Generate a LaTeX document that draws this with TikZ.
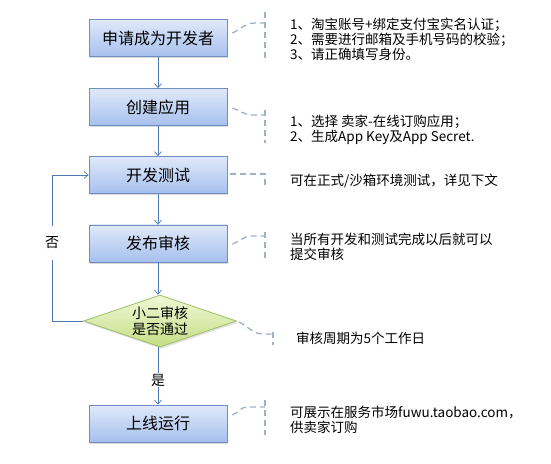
\documentclass[tikz,border=0pt]{standalone}
\usepackage{fontspec}
\setmainfont{Noto Sans CJK SC}
\usetikzlibrary{shapes.geometric,arrows.meta,shadows,calc}
\definecolor{boxtop}{RGB}{224,233,250}
\definecolor{boxbot}{RGB}{166,192,237}
\definecolor{boxdraw}{RGB}{112,142,196}
\definecolor{diatop}{RGB}{240,248,214}
\definecolor{diabot}{RGB}{196,222,134}
\definecolor{diadraw}{RGB}{160,190,100}
\definecolor{arrcol}{RGB}{80,120,180}
\definecolor{callcol}{RGB}{160,176,200}
\begin{document}
\begin{tikzpicture}[x=1pt,y=1pt,
 stepbox/.style={draw=boxdraw, line width=0.8pt, top color=boxtop, bottom color=boxbot,
   minimum width=138pt, minimum height=37pt, inner sep=0pt, font=\fontsize{16}{18}\selectfont,
   drop shadow={opacity=0.3, shadow xshift=1.2pt, shadow yshift=-1.8pt}},
 decision/.style={diamond, draw=diadraw, line width=0.8pt, top color=diatop, bottom color=diabot,
   minimum width=153pt, minimum height=52pt, inner sep=0pt, aspect=3, align=center,
   font=\fontsize{14}{16}\selectfont,
   drop shadow={opacity=0.25, shadow xshift=1.2pt, shadow yshift=-1.8pt}},
 flow/.style={draw=arrcol, line width=0.7pt, -{Straight Barb[length=4pt,width=7pt]}},
 callout/.style={draw=callcol, line width=1.3pt, dash pattern=on 6pt off 4pt},
 note/.style={anchor=west, align=left, inner sep=0pt, font=\fontsize{13.5}{15}\selectfont},
 lbl/.style={font=\fontsize{14}{16}\selectfont, fill=white}]
\useasboundingbox (0,0) rectangle (551,463);

% main boxes
\node[stepbox] (b1) at (158,425) {申请成为开发者};
\node[stepbox] (b2) at (158,356) {创建应用};
\node[stepbox] (b3) at (158,288) {开发测试};
\node[stepbox] (b4) at (158,219.5) {发布审核};
\node[decision] (d) at (160,142) {小二审核\\是否通过};
\node[stepbox] (b5) at (158,39.5) {上线运行};

% flow arrows
\draw[flow] (b1) -- (b2);
\draw[flow] (b2) -- (b3);
\draw[flow] (b3) -- (b4);
\draw[flow] (b4.south) -- (b4.south |- d.north);
\draw[flow] (d.south -| b5.north) -- node[lbl, pos=0.57, inner sep=1pt]{是} (b5.north);
\draw[flow] (d.west) -- ++(-31,0) |- node[lbl, pos=0.267, inner xsep=2pt, inner ysep=11pt]{否} (b3.west);

% callout coordinates
\coordinate (c1k) at (255,440); \coordinate (c1c) at (265,440);
\coordinate (c1t) at (265,451); \coordinate (c1b) at (265,401);
\coordinate (c2k) at (253,348); \coordinate (c2c) at (265,348);
\coordinate (c2t) at (265,353); \coordinate (c2b) at (265,320);
\coordinate (c3c) at (265,289); \coordinate (c3b) at (265,276);
\coordinate (c4k) at (252,227); \coordinate (c4c) at (265,227);
\coordinate (c4t) at (265,231); \coordinate (c4b) at (265,203);
\coordinate (c5k) at (263,129); \coordinate (c5c) at (273,129);
\coordinate (c5t) at (273,131); \coordinate (c5b) at (273,118);
\coordinate (c6k) at (247,56); \coordinate (c6c) at (265,56);
\coordinate (c6t) at (265,63); \coordinate (c6b) at (265,28);

% callouts
\draw[callout] ([shift={(5,5)}]b1.east) to[out=25,in=180] (c1k) -- (c1c);
\draw[callout] (c1t) -- (c1b);
\draw[callout] ([shift={(5,-1)}]b2.east) to[out=-20,in=180] (c2k) -- (c2c);
\draw[callout] (c2t) -- (c2b);
\draw[callout] ([shift={(3,1)}]b3.east) -- (c3c) -- (c3b);
\draw[callout] ([shift={(5,-0.5)}]b4.east) to[out=20,in=180] (c4k) -- (c4c);
\draw[callout] (c4t) -- (c4b);
\draw[callout] ([shift={(2,-1)}]d.east) to[out=-25,in=180] (c5k) -- (c5c);
\draw[callout] (c5t) -- (c5b);
\draw[callout] ([shift={(5,8.5)}]b5.east) to[out=20,in=180] (c6k) -- (c6c);
\draw[callout] (c6t) -- (c6b);

% notes
\node[note] (t1) at (290,423.5) {1、淘宝账号+绑定支付宝实名认证；\\2、需要进行邮箱及手机号码的校验；\\3、请正确填写身份。};
\node[note] (t2) at (290,333) {1、选择 卖家-在线订购应用；\\2、生成App Key及App Secret.};
\node[note] (t3) at (290,282) {可在正式/沙箱环境测试，详见下文};
\node[note] (t4) at (290,216) {当所有开发和测试完成以后就可以\\提交审核};
\node[note] (t5) at (296,125) {审核周期为5个工作日};
\node[note] (t6) at (290,43) {可展示在服务市场fuwu.taobao.com，\\供卖家订购};
\end{tikzpicture}
\end{document}
